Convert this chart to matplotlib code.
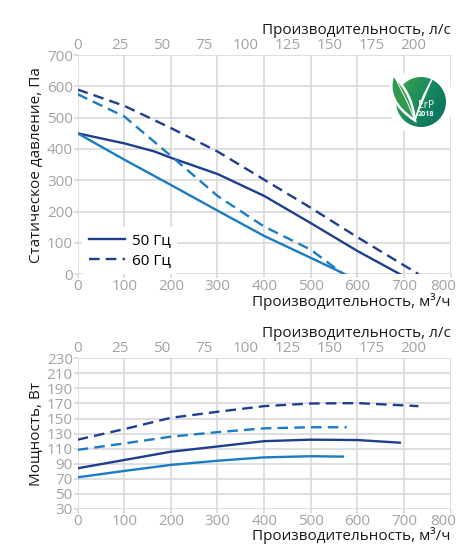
import numpy as np
import matplotlib
matplotlib.use("Agg")
from matplotlib import pyplot as plt
from matplotlib import transforms
from matplotlib.patches import Circle, PathPatch
from matplotlib.path import Path

plt.rcParams["font.family"] = ["Open Sans", "DejaVu Sans"]

DARK = "#1e3f8e"
LIGHT = "#1a7cc3"
GRID = "#d6d6d6"
TICK = "#a3a3a3"

# static pressure, m3/h -> Pa
p50_dark_x = [0, 100, 165, 200, 300, 400, 500, 600, 691]
p50_dark_y = [450, 418, 392, 372, 320, 250, 163, 74, 0]
p50_light_x = [0, 100, 200, 300, 400, 500, 573]
p50_light_y = [450, 366, 285, 203, 122, 52, 0]
p60_dark_x = [0, 100, 200, 300, 400, 500, 600, 731]
p60_dark_y = [590, 538, 467, 392, 302, 212, 118, 0]
p60_light_x = [0, 100, 200, 300, 400, 500, 568]
p60_light_y = [575, 504, 378, 250, 152, 78, 2]

# power, m3/h -> W
w50_dark_x = [0, 100, 200, 300, 400, 500, 600, 691]
w50_dark_y = [84, 95, 106, 113, 120, 122, 121.5, 118]
w50_light_x = [0, 100, 200, 300, 400, 500, 569]
w50_light_y = [72, 80.5, 88.5, 94, 98.5, 100, 99.5]
w60_dark_x = [0, 100, 200, 300, 400, 500, 600, 731]
w60_dark_y = [122, 136, 151, 159, 166.5, 170, 170.5, 166.5]
w60_light_x = [0, 100, 200, 300, 400, 500, 577]
w60_light_y = [108.5, 117, 126, 132, 137, 138.5, 138.5]

ls_ticks = [0, 25, 50, 75, 100, 125, 150, 175, 200]

FS = 11

fig = plt.figure(figsize=(4.62, 5.46), dpi=100)
ax1 = fig.add_axes([0.168, 0.498, 0.8074, 0.401])
ax2 = fig.add_axes([0.168, 0.0678, 0.8074, 0.276])

dash = (0, (4.5, 2.6))


def style(ax, ylim, yticks):
    ax.set_xlim(0, 800)
    ax.set_ylim(*ylim)
    ax.set_xticks(range(0, 801, 100))
    ax.set_yticks(yticks)
    ax.grid(True, color=GRID, lw=1.1)
    ax.set_axisbelow(True)
    for s in ax.spines.values():
        s.set_visible(False)
    ax.tick_params(colors=GRID, labelcolor=TICK, labelsize=FS, length=3, width=1.1, pad=0.5)
    # last label pulled inside the figure, like the original
    last = ax.get_xticklabels()[-1]
    last.set_transform(last.get_transform() + transforms.ScaledTranslation(-7 / 100, 0, fig.dpi_scale_trans))
    sec = ax.secondary_xaxis("top", functions=(lambda x: x / 3.6, lambda x: x * 3.6))
    sec.set_xticks(ls_ticks)
    sec.tick_params(colors=GRID, labelcolor=TICK, labelsize=FS, length=0, pad=1.5)
    for s in sec.spines.values():
        s.set_visible(False)
    sec.set_xlabel("Производительность, л/с", fontsize=FS, color="#1a1a1a", loc="right", labelpad=3)
    ax.set_xlabel("Производительность, м³/ч", fontsize=FS, color="#1a1a1a", loc="right", labelpad=-1)


style(ax1, (0, 700), range(0, 701, 100))
style(ax2, (30, 230), range(30, 231, 20))

lw = 1.7
ax1.plot(p50_dark_x, p50_dark_y, color=DARK, lw=lw, label="50 Гц")
ax1.plot(p60_dark_x, p60_dark_y, color=DARK, lw=lw, ls=dash, label="60 Гц")
ax1.plot(p50_light_x, p50_light_y, color=LIGHT, lw=lw)
ax1.plot(p60_light_x, p60_light_y, color=LIGHT, lw=lw, ls=dash)
ax1.set_ylabel("Статическое давление, Па", fontsize=FS, color="#1a1a1a", labelpad=2)
leg = ax1.legend(loc="lower left", bbox_to_anchor=(0.013, 0.0), frameon=True, fontsize=FS,
                 handlelength=2.4, borderaxespad=0, handletextpad=0.45, labelspacing=0.3)
leg.get_frame().set_edgecolor("none")
leg.get_frame().set_facecolor("white")
leg.get_frame().set_alpha(1)

ax2.plot(w60_dark_x, w60_dark_y, color=DARK, lw=lw, ls=dash)
ax2.plot(w60_light_x, w60_light_y, color=LIGHT, lw=lw, ls=dash)
ax2.plot(w50_dark_x, w50_dark_y, color=DARK, lw=lw)
ax2.plot(w50_light_x, w50_light_y, color=LIGHT, lw=lw)
ax2.set_ylabel("Мощность, Вт", fontsize=FS, color="#1a1a1a", labelpad=2)

# ErP logo, circle radius 25 px centred at (421, 102)
lax = fig.add_axes([(421 - 34) / 462, 1 - (102 + 34) / 546, 68 / 462, 68 / 546])
lax.set_xlim(-1.36, 1.36)
lax.set_ylim(-1.36, 1.36)
lax.axis("off")
lax.add_patch(Circle((0, 0), 1.3, color="white", zorder=0))
gx, gy = np.meshgrid(np.linspace(-1, 1, 120), np.linspace(-1, 1, 120))
cmap = matplotlib.colors.LinearSegmentedColormap.from_list("erp", ["#44a84a", "#16895e", "#086c63"])
img = lax.imshow(gx - gy * 0.6, extent=[-1, 1, -1, 1], cmap=cmap, origin="lower", zorder=1)
img.set_clip_path(Circle((0, 0), 1.0, transform=lax.transData))
# green leaf body sticking out to the upper left
leaf = Path([(-1.12, 1.08), (-1.45, 0.05), (-0.24, -0.74), (-0.35, 0.35), (-1.12, 1.08)],
            [Path.MOVETO, Path.CURVE3, Path.CURVE3, Path.CURVE3, Path.CURVE3])
lax.add_patch(PathPatch(leaf, facecolor="#2f9a50", edgecolor="white", lw=1.8, zorder=2))
# white swoosh / stem
swoosh = Path([(0.45, 0.93), (0.05, 0.05), (-0.24, -0.74), (-0.05, 0.1), (0.45, 0.93)],
              [Path.MOVETO, Path.CURVE3, Path.CURVE3, Path.CURVE3, Path.CURVE3])
lax.add_patch(PathPatch(swoosh, facecolor="white", edgecolor="white", lw=0.8, zorder=2))
lax.plot([-1.0, -0.55, -0.24], [0.9, 0.0, -0.74], color="white", lw=0.7, zorder=3)
lax.text(0.22, -0.12, "ErP", color="white", fontsize=7.5, ha="center", va="center", zorder=3)
lax.text(0.2, -0.5, "2018", color="white", fontsize=5.2, fontweight="bold", ha="center", va="center", zorder=3)

fig.savefig("out.png", dpi=100)
